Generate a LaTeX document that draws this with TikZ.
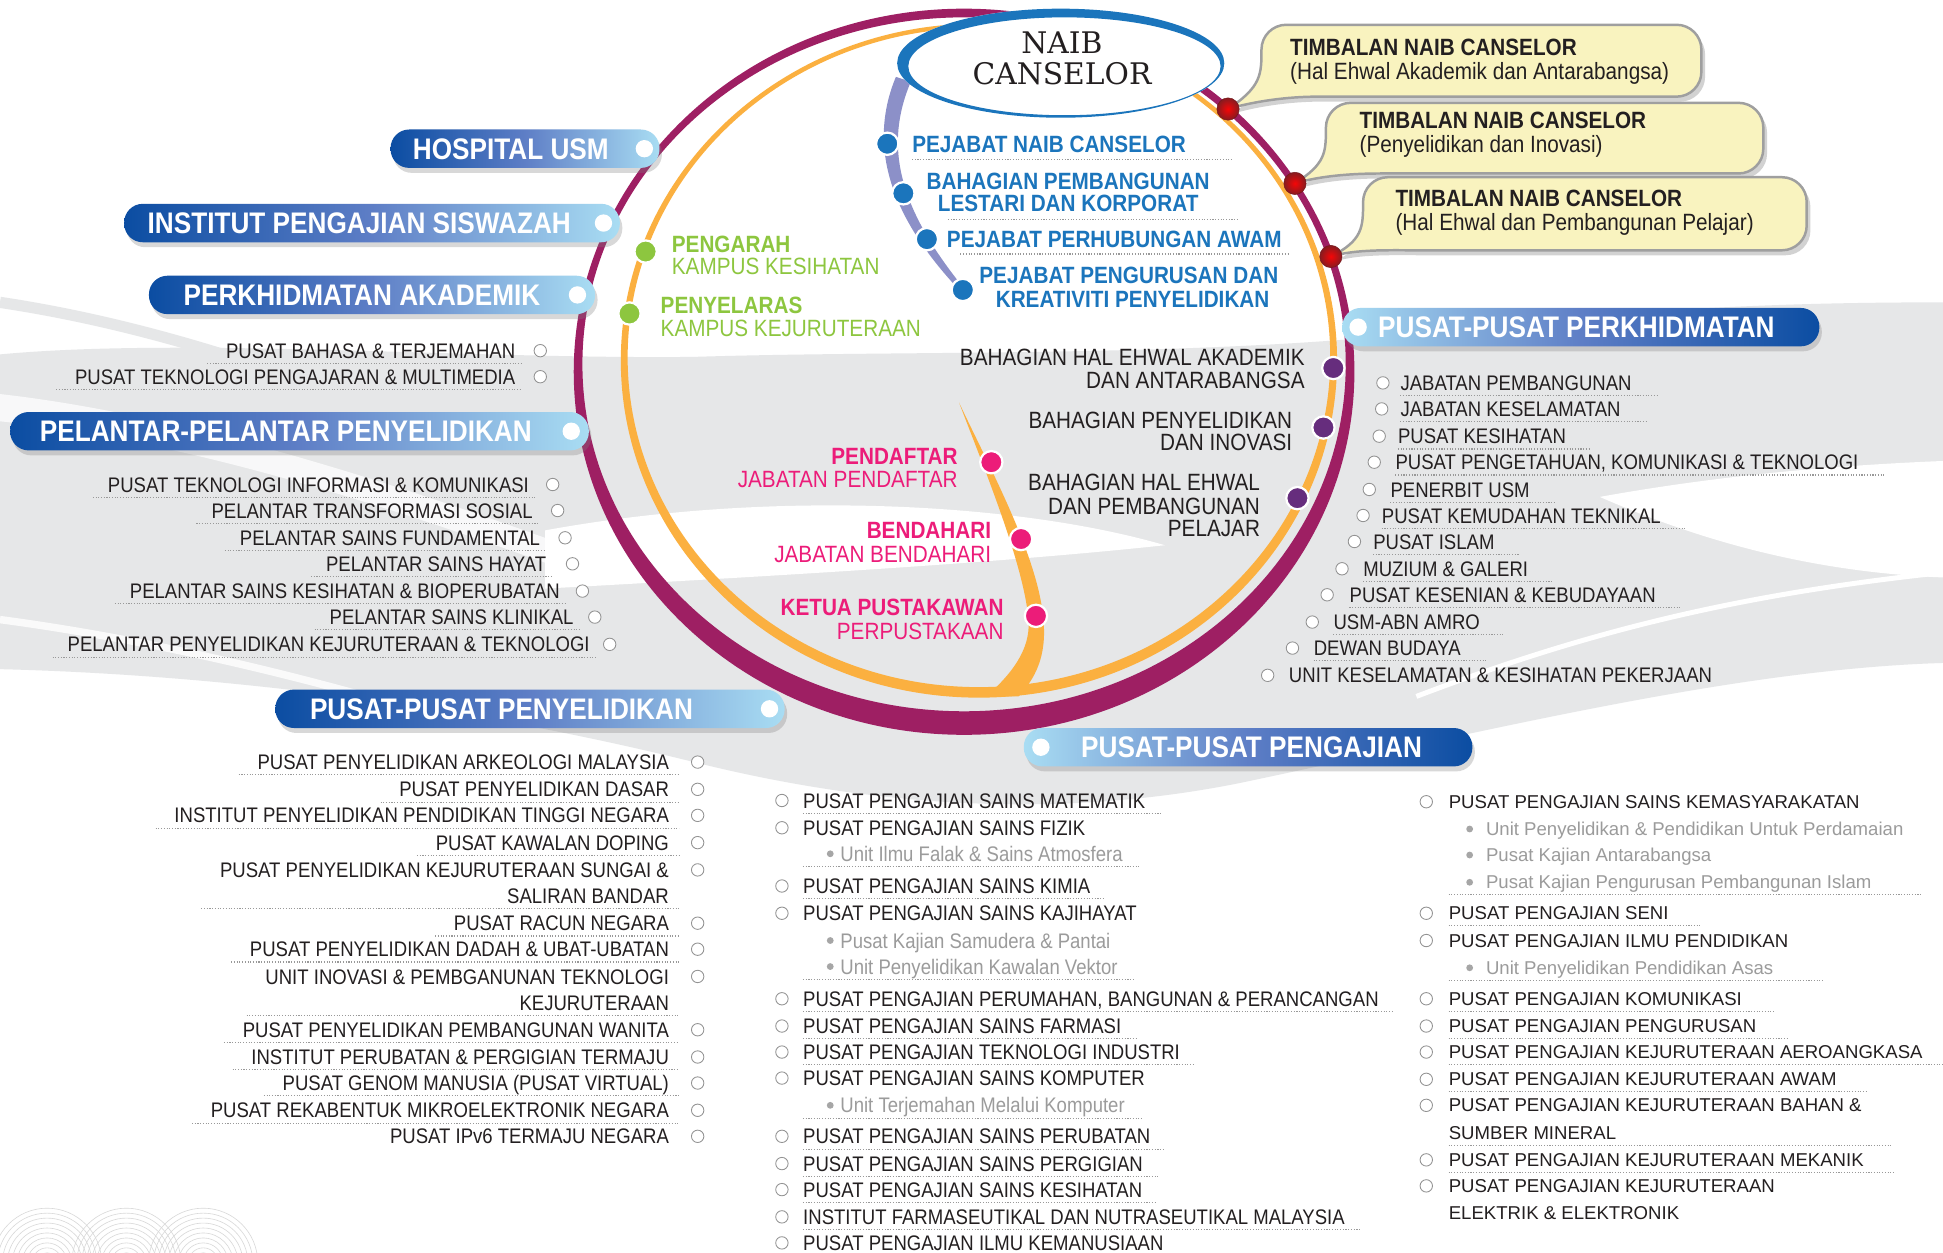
\documentclass[tikz,border=0pt]{standalone}
\usepackage{fontspec}
\usetikzlibrary{shadows,calc}
\newfontfamily\cf[FakeStretch=0.88]{Liberation Sans}
\newfontfamily\nf{Liberation Sans}
\newfontfamily\ncf{DejaVu Serif}
\definecolor{ringP}{HTML}{9E1F63}
\definecolor{ringO}{HTML}{FBB040}
\definecolor{lav}{HTML}{8C90C8}
\definecolor{nblue}{HTML}{1B75BC}
\definecolor{bdark}{HTML}{0B4DA2}
\definecolor{bmid}{HTML}{5E7EC6}
\definecolor{blight}{HTML}{A9DDF3}
\definecolor{gtxt}{HTML}{8DC63F}
\definecolor{ptxt}{HTML}{EC1C79}
\definecolor{vdot}{HTML}{662D7D}
\definecolor{rdot}{HTML}{C1272D}
\definecolor{calfill}{HTML}{F9F3BF}
\definecolor{txt}{HTML}{231F20}
\definecolor{subg}{HTML}{9B9B9B}
\definecolor{bgc}{HTML}{E6E7E8}
\tikzset{
  lst/.style={font=\cf\fontsize{17}{20}\selectfont, text=txt, inner sep=0pt, text height=12.2pt, text depth=0pt},
  lstn/.style={font=\nf\fontsize{15}{18}\selectfont, text=txt, inner sep=0pt, text height=10.7pt, text depth=0pt},
  subm/.style={lst, text=subg},
  subr/.style={lstn, text=subg},
  oc/.style={circle, draw=gray!85, fill=white, line width=0.7pt, minimum size=10pt, inner sep=0pt},
  sbul/.style={circle, fill=gray!70, minimum size=5.5pt, inner sep=0pt},
  sep/.style={draw=gray!80, line width=0.9pt, dash pattern=on 0.9pt off 1.3pt},
  shd/.style={drop shadow={shadow xshift=2pt, shadow yshift=-4pt, opacity=0.3}},
  banL/.style={rounded corners=15pt, minimum height=31pt, inner sep=0pt, left color=bdark, right color=blight, middle color=bmid, shd},
  banR/.style={rounded corners=15pt, minimum height=31pt, inner sep=0pt, left color=blight, right color=bdark, middle color=bmid, shd},
  btxt/.style={font=\cf\bfseries\fontsize{24}{26}\selectfont, text=white, inner sep=0pt, text height=17.2pt, text depth=0pt},
  wdot/.style={circle, fill=white, minimum size=14pt, inner sep=0pt},
  kdot/.style={circle, fill=#1, draw=white, line width=1.8pt, minimum size=18pt, inner sep=0pt},
  rball/.style={circle, inner color=red!85!rdot, outer color=rdot!70!black, draw=rdot!60!black, line width=0.4pt, minimum size=18pt, inner sep=0pt},
  lab/.style={font=\cf\fontsize{19}{21}\selectfont, inner sep=0pt, text height=13.6pt, text depth=0pt},
  labb/.style={font=\cf\bfseries\fontsize{19}{21}\selectfont, inner sep=0pt, text height=13.6pt, text depth=0pt},
  callout/.style={fill=calfill, draw=gray!75, line width=2pt, drop shadow={shadow xshift=3pt, shadow yshift=-4pt, opacity=0.35}},
}
\begin{document}
\begin{tikzpicture}[x=1pt,y=-1pt]
\useasboundingbox (0,0) rectangle (1568,1011);
\fill[white] (0,0) rectangle (1568,1011);
% ---------- background ----------
\fill[bgc] (0,286) .. controls (150,272) and (380,290) .. (560,288) .. controls (750,282) and (1000,290) .. (1200,262) .. controls (1350,248) and (1450,244) .. (1568,244) -- (1568,535) .. controls (1400,540) and (1200,590) .. (1000,632) .. controls (850,662) and (700,650) .. (560,615) .. controls (400,575) and (200,545) .. (0,540) -- cycle;
\fill[white] (1291,401) .. controls (1380,385) and (1470,376) .. (1568,372) -- (1568,466) .. controls (1470,462) and (1380,440) .. (1291,401) -- cycle;
\draw[bgc, line width=9pt] (0,244) .. controls (120,262) and (230,300) .. (330,340);
\fill[white, opacity=0.75] (0,318) .. controls (150,335) and (320,390) .. (470,445) -- (470,465) .. controls (320,410) and (150,355) .. (0,340) -- cycle;
\draw[white, line width=6pt, opacity=0.8] (0,500) .. controls (150,520) and (300,560) .. (420,600);
\fill[white] (440,428) .. controls (620,395) and (820,405) .. (940,440) .. controls (800,455) and (620,465) .. (440,475) -- cycle;
\draw[white, line width=4pt] (1143,562) .. controls (1280,510) and (1400,480) .. (1568,462);
\draw[white, line width=8pt] (600,660) .. controls (760,700) and (900,690) .. (1020,640);
\foreach \cx in {38,102,164}{
  \foreach \r in {8,12,...,44}{
    \draw[gray!30, line width=0.5pt] (\cx,1019) ++(180:\r) arc[start angle=180, end angle=360, radius=\r];
  }
}
% ---------- rings ----------
\fill[ringP, even odd rule] (778,300) ellipse [x radius=315, y radius=293] (778,294) ellipse [x radius=308, y radius=280];
\fill[ringO, even odd rule] (790,291) ellipse [x radius=289, y radius=272] (790,288.5) ellipse [x radius=283.5, y radius=266];
\fill[ringO] (774,325) .. controls (800,380) and (838,450) .. (842,500) .. controls (845,530) and (835,548) .. (822,562) -- (796,562) .. controls (815,545) and (832,525) .. (830,500) .. controls (826,455) and (795,380) .. (774,325) -- cycle;
\fill[lav] (723,62) .. controls (701,115) and (715,172) .. (776,236) -- (779,234) .. controls (725,168) and (713,118) .. (735,66) -- cycle;
% ---------- Naib Canselor ----------
\fill[white] (856,51) ellipse [x radius=132, y radius=44];
\fill[nblue, even odd rule] (856,51) ellipse [x radius=132, y radius=44] (859,53.5) ellipse [x radius=126, y radius=39.5];
\node[font=\ncf\fontsize{24}{25}\selectfont, text=txt, align=center, inner sep=0pt] (nc) at (857,47) {NAIB\\CANSELOR};
% ---------- callouts ----------
\foreach \L/\T/\R/\B/\dx/\dy in {1018/20/1373/78/991/88, 1070/83/1423/140/1045/148, 1100/143/1458/202/1074/207}{
  \draw[callout] (\dx,\dy) .. controls (\L,\B-8) and (\L,\T+40) .. (\L,\T+20) arc[start angle=180, end angle=270, radius=20] -- (\R-20,\T) arc[start angle=270, end angle=360, radius=20] -- (\R,\B-20) arc[start angle=0, end angle=90, radius=20] -- (\L+45,\B) .. controls (\L+20,\B) and (\dx+20,\dy-6) .. (\dx,\dy) -- cycle;
}
\node[labb, text=txt, anchor=west] (tn1) at (1041,38) {TIMBALAN NAIB CANSELOR};
\node[lab, text=txt, anchor=west] (tn1b) at (1041,57) {(Hal Ehwal Akademik dan Antarabangsa)};
\node[labb, text=txt, anchor=west] (tn2) at (1097,97) {TIMBALAN NAIB CANSELOR};
\node[lab, text=txt, anchor=west] (tn2b) at (1097,116) {(Penyelidikan dan Inovasi)};
\node[labb, text=txt, anchor=west] (tn3) at (1126,160) {TIMBALAN NAIB CANSELOR};
\node[lab, text=txt, anchor=west] (tn3b) at (1126,179) {(Hal Ehwal dan Pembangunan Pelajar)};
% ---------- banners ----------
\node[banL, minimum width=217pt, anchor=west] (hosp) at (315,120) {};
\node[wdot] (hospd) at (520,120) {};
\node[btxt, anchor=west] (hospt) at (333,120) {HOSPITAL USM};
\node[banL, minimum width=400pt, anchor=west] (ips) at (100,180) {};
\node[wdot] (ipsd) at (487,180) {};
\node[btxt, anchor=west] (ipst) at (119,180) {INSTITUT PENGAJIAN SISWAZAH};
\node[banL, minimum width=360pt, anchor=west] (pa) at (120,238) {};
\node[wdot] (pad) at (466,238) {};
\node[btxt, anchor=west] (pat) at (148,238) {PERKHIDMATAN AKADEMIK};
\node[banL, minimum width=467pt, anchor=west] (ppl) at (8,348) {};
\node[wdot] (ppld) at (461,348) {};
\node[btxt, anchor=west] (pplt) at (32,348) {PELANTAR-PELANTAR PENYELIDIKAN};
\node[banL, minimum width=411pt, anchor=west] (ppy) at (222,572) {};
\node[wdot] (ppyd) at (621,572) {};
\node[btxt, anchor=west] (ppyt) at (250,572) {PUSAT-PUSAT PENYELIDIKAN};
\node[banR, minimum width=385pt, anchor=west] (pk) at (1083,264) {};
\node[wdot] (pkd) at (1096,264) {};
\node[btxt, anchor=west] (pkt) at (1112,264) {PUSAT-PUSAT PERKHIDMATAN};
\node[banR, minimum width=362pt, anchor=west] (pj) at (826,603) {};
\node[wdot] (pjd) at (840,603) {};
\node[btxt] (pjt) at (1010,603) {PUSAT-PUSAT PENGAJIAN};
% ---------- dots ----------
\foreach \n/\x/\y in {1/716/116, 2/729/156, 3/748/193, 4/777/234} \node[kdot=nblue] (bd\n) at (\x,\y) {};
\foreach \n/\x/\y in {1/521/203, 2/508/253} \node[kdot=gtxt] (gd\n) at (\x,\y) {};
\foreach \n/\x/\y in {1/1076/297, 2/1068/345, 3/1047/402} \node[kdot=vdot] (vd\n) at (\x,\y) {};
\foreach \n/\x/\y in {1/800/373, 2/824/435, 3/836/497} \node[kdot=ptxt] (pd\n) at (\x,\y) {};
\foreach \n/\x/\y in {1/991/88, 2/1045/148, 3/1074/207} \node[rball] (rd\n) at (\x,\y) {};
% ---------- inner labels ----------
\node[labb, text=nblue, anchor=west] (pb1) at (736,116) {PEJABAT NAIB CANSELOR};
\node[labb, text=nblue] (pb2) at (862,146) {BAHAGIAN PEMBANGUNAN};
\node[labb, text=nblue] (pb2b) at (862,164) {LESTARI DAN KORPORAT};
\node[labb, text=nblue, anchor=west] (pb3) at (764,193) {PEJABAT PERHUBUNGAN AWAM};
\node[labb, text=nblue] (pb4) at (911,222) {PEJABAT PENGURUSAN DAN};
\node[labb, text=nblue] (pb4b) at (914,241) {KREATIVITI PENYELIDIKAN};
\draw[sep] (736,129) -- (994,129);
\draw[sep] (765,177) -- (1000,177);
\draw[sep] (775,205) -- (1040,205);
\node[labb, text=gtxt, anchor=west] (g1) at (542,197) {PENGARAH};
\node[lab, text=gtxt, anchor=west] (g1b) at (542,215) {KAMPUS KESIHATAN};
\node[labb, text=gtxt, anchor=west] (g2) at (533,246) {PENYELARAS};
\node[lab, text=gtxt, anchor=west] (g2b) at (533,265) {KAMPUS KEJURUTERAAN};
\node[lab, text=txt, anchor=east] (k1) at (1053,288) {BAHAGIAN HAL EHWAL AKADEMIK};
\node[lab, text=txt, anchor=east] (k1b) at (1053,307) {DAN ANTARABANGSA};
\node[lab, text=txt, anchor=east] (k2) at (1043,339) {BAHAGIAN PENYELIDIKAN};
\node[lab, text=txt, anchor=east] (k2b) at (1043,357) {DAN INOVASI};
\node[lab, text=txt, anchor=east] (k3) at (1017,389) {BAHAGIAN HAL EHWAL};
\node[lab, text=txt, anchor=east] (k3b) at (1017,408) {DAN PEMBANGUNAN};
\node[lab, text=txt, anchor=east] (k3c) at (1017,426) {PELAJAR};
\node[labb, text=ptxt, anchor=east] (p1) at (773,368) {PENDAFTAR};
\node[lab, text=ptxt, anchor=east] (p1b) at (773,387) {JABATAN PENDAFTAR};
\node[labb, text=ptxt, anchor=east] (p2) at (800,428) {BENDAHARI};
\node[lab, text=ptxt, anchor=east] (p2b) at (800,447) {JABATAN BENDAHARI};
\node[labb, text=ptxt, anchor=east] (p3) at (810,490) {KETUA PUSTAKAWAN};
\node[lab, text=ptxt, anchor=east] (p3b) at (810,509) {PERPUSTAKAAN};
% ---------- Perkhidmatan Akademik list ----------
\foreach \n/\yy/\xr/\xc/\t in {1/283/416/436/{PUSAT BAHASA \& TERJEMAHAN}, 2/304/416/436/{PUSAT TEKNOLOGI PENGAJARAN \& MULTIMEDIA}}{
  \node[lst, anchor=east] (ak\n) at (\xr,\yy) {\t};
  \node[oc] (akc\n) at (\xc,\yy) {};
  \draw[sep] ([xshift=-15pt,yshift=-4pt]ak\n.south west) -- ([xshift=5pt,yshift=-4pt]ak\n.south east);
}
% ---------- Pelantar list ----------
\foreach \n/\yy/\xr/\xc/\t in {1/391/427/446/{PUSAT TEKNOLOGI INFORMASI \& KOMUNIKASI}, 2/412/430/450/{PELANTAR TRANSFORMASI SOSIAL}, 3/434/436/456/{PELANTAR SAINS FUNDAMENTAL}, 4/455/441/462/{PELANTAR SAINS HAYAT}, 5/477/452/470/{PELANTAR SAINS KESIHATAN \& BIOPERUBATAN}, 6/498/463/480/{PELANTAR SAINS KLINIKAL}, 7/520/476/492/{PELANTAR PENYELIDIKAN KEJURUTERAAN \& TEKNOLOGI}}{
  \node[lst, anchor=east] (pl\n) at (\xr,\yy) {\t};
  \node[oc] (plc\n) at (\xc,\yy) {};
  \draw[sep] ([xshift=-12pt,yshift=-4pt]pl\n.south west) -- ([xshift=5pt,yshift=-4pt]pl\n.south east);
}
% ---------- Pusat-pusat penyelidikan list ----------
\foreach \n/\yy/\d/\t in {1/615/1/{PUSAT PENYELIDIKAN ARKEOLOGI MALAYSIA}, 2/637/1/{PUSAT PENYELIDIKAN DASAR}, 3/658/1/{INSTITUT PENYELIDIKAN PENDIDIKAN TINGGI NEGARA}, 4/680/1/{PUSAT KAWALAN DOPING}, 6/745/1/{PUSAT RACUN NEGARA}, 7/766/1/{PUSAT PENYELIDIKAN DADAH \& UBAT-UBATAN}, 9/831/1/{PUSAT PENYELIDIKAN PEMBANGUNAN WANITA}, 10/853/1/{INSTITUT PERUBATAN \& PERGIGIAN TERMAJU}, 11/874/1/{PUSAT GENOM MANUSIA (PUSAT VIRTUAL)}, 12/896/1/{PUSAT REKABENTUK MIKROELEKTRONIK NEGARA}, 13/917/0/{PUSAT IPv6 TERMAJU NEGARA}}{
  \node[lst, anchor=east] (py\n) at (540,\yy) {\t};
  \node[oc] (pyc\n) at (563,\yy) {};
  \ifnum\d=1 \draw[sep] ([xshift=-15pt,yshift=-4pt]py\n.south west) -- ([xshift=8pt,yshift=-4pt]py\n.south east); \fi
}
\node[lst, anchor=east] (py5) at (540,702) {PUSAT PENYELIDIKAN KEJURUTERAAN SUNGAI \&};
\node[lst, anchor=east] (py5b) at (540,723) {SALIRAN BANDAR};
\node[oc] (pyc5) at (563,702) {};
\draw[sep] ([xshift=-15pt,yshift=-4pt]py5.west |- py5b.south) -- ([xshift=8pt,yshift=-4pt]py5b.south east);
\node[lst, anchor=east] (py8) at (540,788) {UNIT INOVASI \& PEMBGANUNAN TEKNOLOGI};
\node[lst, anchor=east] (py8b) at (540,809) {KEJURUTERAAN};
\node[oc] (pyc8) at (563,788) {};
\draw[sep] ([xshift=-15pt,yshift=-4pt]py8.west |- py8b.south) -- ([xshift=8pt,yshift=-4pt]py8b.south east);
% ---------- Pusat-pusat perkhidmatan list ----------
\foreach \n/\xc/\yy/\xt/\d/\t in {1/1116/309/1130/1/{JABATAN PEMBANGUNAN}, 2/1115/330/1130/1/{JABATAN KESELAMATAN}, 3/1113/352/1128/1/{PUSAT KESIHATAN}, 4/1109/373/1126/1/{PUSAT PENGETAHUAN, KOMUNIKASI \& TEKNOLOGI}, 5/1105/395/1122/1/{PENERBIT USM}, 6/1100/416/1115/1/{PUSAT KEMUDAHAN TEKNIKAL}, 7/1093/437/1108/1/{PUSAT ISLAM}, 8/1083/459/1100/1/{MUZIUM \& GALERI}, 9/1071/480/1089/1/{PUSAT KESENIAN \& KEBUDAYAAN}, 10/1059/502/1076/1/{USM-ABN AMRO}, 11/1043/523/1060/1/{DEWAN BUDAYA}, 12/1023/545/1040/0/{UNIT KESELAMATAN \& KESIHATAN PEKERJAAN}}{
  \node[oc] (skc\n) at (\xc,\yy) {};
  \node[lst, anchor=west] (sk\n) at (\xt,\yy) {\t};
  \ifnum\d=1 \draw[sep] ([yshift=-4pt]sk\n.south west) -- ([xshift=20pt,yshift=-4pt]sk\n.south east); \fi
}
% ---------- Pusat-pusat pengajian: middle column ----------
\foreach \n/\yy/\d/\t in {1/646/1/{PUSAT PENGAJIAN SAINS MATEMATIK}, 2/668/0/{PUSAT PENGAJIAN SAINS FIZIK}, 3/715/1/{PUSAT PENGAJIAN SAINS KIMIA}, 4/737/0/{PUSAT PENGAJIAN SAINS KAJIHAYAT}, 5/806/1/{PUSAT PENGAJIAN PERUMAHAN, BANGUNAN \& PERANCANGAN}, 6/828/1/{PUSAT PENGAJIAN SAINS FARMASI}, 7/849/1/{PUSAT PENGAJIAN TEKNOLOGI INDUSTRI}, 8/870/0/{PUSAT PENGAJIAN SAINS KOMPUTER}, 9/917/1/{PUSAT PENGAJIAN SAINS PERUBATAN}, 10/939/1/{PUSAT PENGAJIAN SAINS PERGIGIAN}, 11/960/1/{PUSAT PENGAJIAN SAINS KESIHATAN}, 12/982/1/{INSTITUT FARMASEUTIKAL DAN NUTRASEUTIKAL MALAYSIA}, 13/1003/0/{PUSAT PENGAJIAN ILMU KEMANUSIAAN}}{
  \node[oc] (mc\n) at (631,\yy) {};
  \node[lst, anchor=west] (m\n) at (648,\yy) {\t};
  \ifnum\d=1 \draw[sep] ([yshift=-4pt]m\n.south west) -- ([xshift=12pt,yshift=-4pt]m\n.south east); \fi
}
\foreach \n/\yy/\d/\t in {1/689/1/{Unit Ilmu Falak \& Sains Atmosfera}, 2/759/0/{Pusat Kajian Samudera \& Pantai}, 3/780/1/{Unit Penyelidikan Kawalan Vektor}, 4/892/1/{Unit Terjemahan Melalui Komputer}}{
  \node[sbul] (msb\n) at (670,\yy) {};
  \node[subm, anchor=west] (ms\n) at (678,\yy) {\t};
  \ifnum\d=1 \draw[sep] ([xshift=-30pt,yshift=-4pt]ms\n.south west) -- ([xshift=14pt,yshift=-4pt]ms\n.south east); \fi
}
% ---------- Pusat-pusat pengajian: right column ----------
\foreach \n/\yy/\d/\t in {1/647/0/{PUSAT PENGAJIAN SAINS KEMASYARAKATAN}, 2/737/1/{PUSAT PENGAJIAN SENI}, 3/759/0/{PUSAT PENGAJIAN ILMU PENDIDIKAN}, 4/806/1/{PUSAT PENGAJIAN KOMUNIKASI}, 5/828/1/{PUSAT PENGAJIAN PENGURUSAN}, 6/849/1/{PUSAT PENGAJIAN KEJURUTERAAN AEROANGKASA}, 7/871/1/{PUSAT PENGAJIAN KEJURUTERAAN AWAM}, 9/936/1/{PUSAT PENGAJIAN KEJURUTERAAN MEKANIK}}{
  \node[oc] (rc\n) at (1151,\yy) {};
  \node[lstn, anchor=west] (r\n) at (1169,\yy) {\t};
  \ifnum\d=1 \draw[sep] ([yshift=-4.6pt]r\n.south west) -- ([xshift=25pt,yshift=-4.6pt]r\n.south east); \fi
}
\node[oc] (rc8) at (1151,892) {};
\node[lstn, anchor=west] (r8) at (1169,892) {PUSAT PENGAJIAN KEJURUTERAAN BAHAN \&};
\node[lstn, anchor=west] (r8b) at (1169,914) {SUMBER MINERAL};
\draw[sep] ([yshift=-4.6pt]r8b.south west) -- ([xshift=25pt,yshift=-4.6pt]r8.east |- r8b.south);
\node[oc] (rc10) at (1151,957) {};
\node[lstn, anchor=west] (r10) at (1169,957) {PUSAT PENGAJIAN KEJURUTERAAN};
\node[lstn, anchor=west] (r10b) at (1169,979) {ELEKTRIK \& ELEKTRONIK};
\foreach \n/\yy/\d/\t in {1/669/0/{Unit Penyelidikan \& Pendidikan Untuk Perdamaian}, 2/690/0/{Pusat Kajian Antarabangsa}, 3/712/1/{Pusat Kajian Pengurusan Pembangunan Islam}, 4/781/1/{Unit Penyelidikan Pendidikan Asas}}{
  \node[sbul] (rsb\n) at (1186,\yy) {};
  \node[subr, anchor=west] (rs\n) at (1199,\yy) {\t};
  \ifnum\d=1 \draw[sep] ([xshift=-30pt,yshift=-4.6pt]rs\n.south west) -- ([xshift=40pt,yshift=-4.6pt]rs\n.south east); \fi
}
\end{tikzpicture}
\end{document}
